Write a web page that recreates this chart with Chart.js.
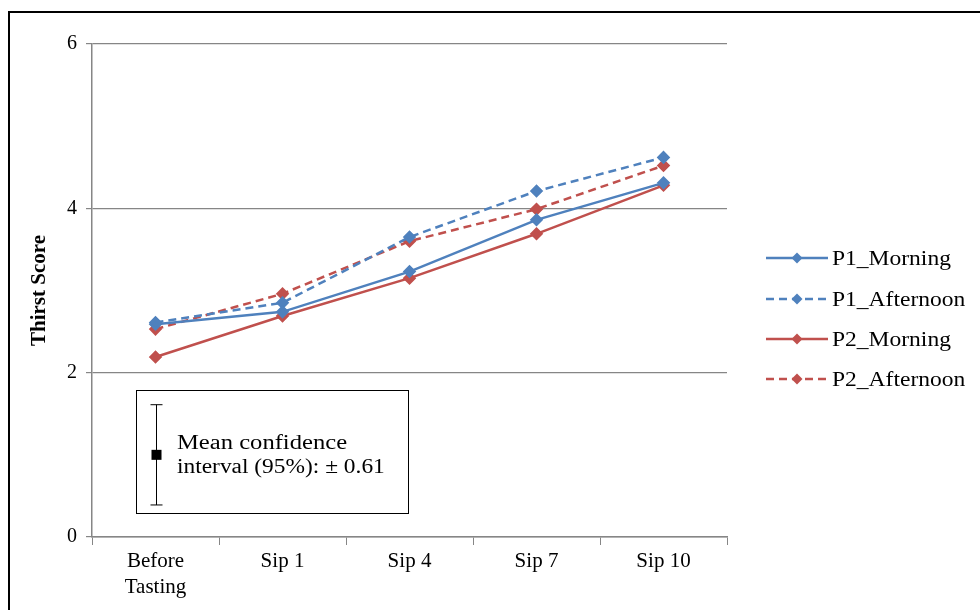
<!DOCTYPE html>
<html>
<head>
<meta charset="utf-8">
<script src="https://cdn.jsdelivr.net/npm/chart.js@4.4.1/dist/chart.umd.min.js"></script>
<style>
  body { margin: 0; background: #fff; }
  canvas { display: block; }
</style>
</head>
<body>
<canvas id="thirstChart" width="980" height="610"></canvas>
<script>
var categories = [['Before', 'Tasting'], 'Sip 1', 'Sip 4', 'Sip 7', 'Sip 10'];
var p1Morning = [2.59, 2.74, 3.23, 3.86, 4.31];
var p1Afternoon = [2.61, 2.85, 3.65, 4.21, 4.62];
var p2Morning = [2.19, 2.69, 3.15, 3.69, 4.28];
var p2Afternoon = [2.53, 2.96, 3.60, 3.99, 4.52];
var yTicks = [0, 2, 4, 6];
var ciCenter = 1.0;
var ciHalf = 0.61;

var blue = '#4f81bd';
var red = '#c0504d';
var serif = "'Liberation Serif', 'Times New Roman', serif";

function makeSet(label, data, color, dashed) {
    return {
        label: label,
        data: data,
        borderColor: color,
        backgroundColor: color,
        borderWidth: 2.5,
        borderDash: dashed ? [8, 5] : [],
        pointStyle: 'rectRot',
        pointRadius: 5,
        pointBackgroundColor: color,
        pointBorderColor: color,
        tension: 0
    };
}

// text in the original is a bit stretched sideways
function wideText(c, txt, x, y, sx) {
    c.save();
    c.translate(x, y);
    c.scale(sx, 1);
    c.fillText(txt, 0, 0);
    c.restore();
}

// frame, legend and the confidence interval inset
var extras = {
    id: 'extras',
    beforeDraw: function(chart) {
        var c = chart.ctx;
        c.save();
        c.strokeStyle = '#000';
        c.lineWidth = 2;
        c.beginPath();
        c.moveTo(9, 610);
        c.lineTo(9, 12);
        c.lineTo(980, 12);
        c.stroke();
        c.restore();
    },
    afterDraw: function(chart) {
        var c = chart.ctx;
        var xs = chart.scales.x;
        var ys = chart.scales.y;
        c.save();

        // legend
        var legY = [258, 299, 339, 379];
        chart.data.datasets.forEach(function(ds, i) {
            var y = legY[i];
            c.strokeStyle = ds.borderColor;
            c.lineWidth = 2.5;
            c.setLineDash(ds.borderDash);
            c.beginPath();
            c.moveTo(766, y);
            c.lineTo(828, y);
            c.stroke();
            c.setLineDash([]);
            c.fillStyle = ds.borderColor;
            c.beginPath();
            c.moveTo(797, y - 5.5);
            c.lineTo(802.5, y);
            c.lineTo(797, y + 5.5);
            c.lineTo(791.5, y);
            c.closePath();
            c.fill();
            c.fillStyle = '#000';
            c.font = '21px ' + serif;
            c.textBaseline = 'middle';
            wideText(c, ds.label, 832, y + 1, 1.12);
        });

        // inset box
        c.strokeStyle = '#000';
        c.lineWidth = 1;
        c.strokeRect(136.5, 390.5, 272, 123);
        var ex = Math.round(xs.getPixelForValue(0)) + 0.5;
        var yTop = ys.getPixelForValue(ciCenter + ciHalf);
        var yBot = ys.getPixelForValue(ciCenter - ciHalf);
        var yMid = ys.getPixelForValue(ciCenter);
        c.beginPath();
        c.moveTo(ex, yTop);
        c.lineTo(ex, yBot);
        c.moveTo(ex - 6, yTop);
        c.lineTo(ex + 6, yTop);
        c.moveTo(ex - 6, yBot);
        c.lineTo(ex + 6, yBot);
        c.stroke();
        c.fillStyle = '#000';
        c.fillRect(ex - 5, yMid - 5, 10, 10);
        c.font = '20px ' + serif;
        c.textBaseline = 'middle';
        wideText(c, 'Mean confidence', 177, 444, 1.23);
        wideText(c, 'interval (95%): \u00b1 0.61', 177, 468, 1.17);
        c.restore();
    }
};

var ctx = document.getElementById('thirstChart').getContext('2d');
var thirstChart = new Chart(ctx, {
    type: 'line',
    data: {
        labels: categories,
        datasets: [
            makeSet('P1_Morning', p1Morning, blue, false),
            makeSet('P1_Afternoon', p1Afternoon, blue, true),
            makeSet('P2_Morning', p2Morning, red, false),
            makeSet('P2_Afternoon', p2Afternoon, red, true)
        ]
    },
    options: {
        responsive: false,
        animation: false,
        layout: { padding: { top: 44, right: 253, left: 27, bottom: 0 } },
        plugins: {
            legend: { display: false },
            tooltip: { enabled: false }
        },
        scales: {
            x: {
                offset: true,
                grid: {
                    offset: true,
                    drawOnChartArea: false,
                    drawTicks: true,
                    tickLength: 8,
                    color: '#868686'
                },
                border: { color: '#868686', width: 1.5 },
                ticks: {
                    color: '#000',
                    font: { family: serif, size: 21, lineHeight: 1.25 },
                    padding: 3,
                    maxRotation: 0
                },
                afterFit: function(scale) { scale.height = 73; }
            },
            y: {
                min: 0,
                max: 6,
                afterBuildTicks: function(scale) {
                    scale.ticks = yTicks.map(function(v) { return { value: v }; });
                },
                grid: {
                    color: '#868686',
                    lineWidth: 1.2,
                    tickLength: 6
                },
                border: { color: '#868686', width: 1.5 },
                ticks: {
                    color: '#000',
                    font: { family: serif, size: 20 },
                    padding: 9
                },
                title: {
                    display: true,
                    text: 'Thirst Score',
                    color: '#000',
                    font: { family: serif, size: 21, weight: 'bold' },
                    padding: { top: 0, bottom: 0 }
                },
                afterFit: function(scale) { scale.width = 65; }
            }
        }
    },
    plugins: [extras]
});
</script>
</body>
</html>
